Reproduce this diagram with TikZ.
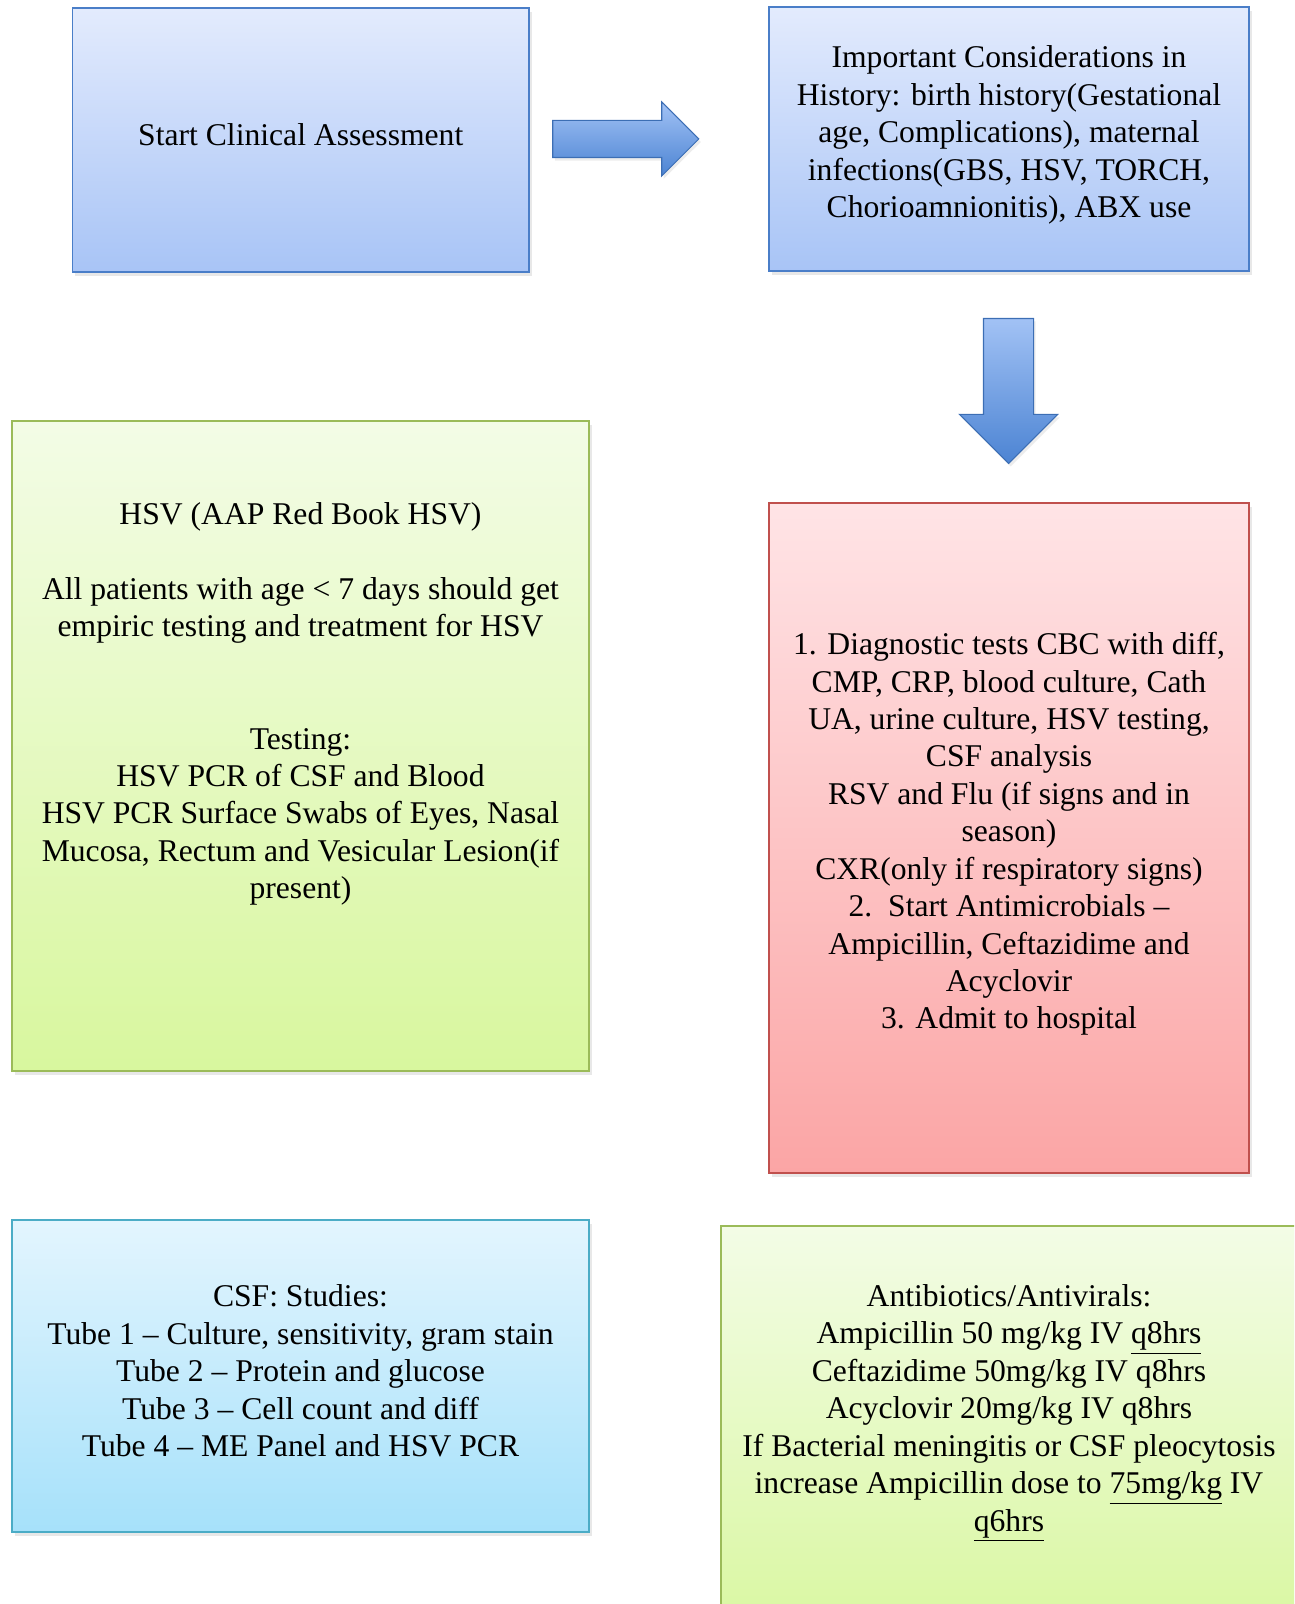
\documentclass[tikz,border=0pt]{standalone}
\usepackage{fontspec}
\setmainfont{Liberation Serif}
\usepackage{tikz}
\usetikzlibrary{shapes,shapes.arrows,shadows}
\definecolor{blueTop}{HTML}{E3EBFD}
\definecolor{blueBot}{HTML}{A8C4F6}
\definecolor{blueLine}{HTML}{4A7EC8}
\definecolor{arrTop}{HTML}{A2C2F5}
\definecolor{arrBot}{HTML}{4C84D3}
\definecolor{arrLine}{HTML}{3C6EB4}
\definecolor{greenTop}{HTML}{F3FCE6}
\definecolor{greenBot}{HTML}{D8F79E}
\definecolor{greenLine}{HTML}{9BBB59}
\definecolor{redTop}{HTML}{FFE4E6}
\definecolor{redBot}{HTML}{FBA5A5}
\definecolor{redLine}{HTML}{C0504D}
\definecolor{cyanTop}{HTML}{E3F5FE}
\definecolor{cyanBot}{HTML}{A6E1FA}
\definecolor{cyanLine}{HTML}{4BACC6}
\tikzset{box/.style={draw, line width=0.9pt, inner sep=0pt, drop shadow={opacity=0.18, shadow xshift=0.05cm, shadow yshift=-0.09cm}}}
\tikzset{bluebox/.style={box, draw=blueLine, top color=blueTop, bottom color=blueBot}}
\tikzset{greenbox/.style={box, draw=greenLine, top color=greenTop, bottom color=greenBot}}
\tikzset{redbox/.style={box, draw=redLine, top color=redTop, bottom color=redBot}}
\tikzset{cyanbox/.style={box, draw=cyanLine, top color=cyanTop, bottom color=cyanBot}}
\tikzset{fatarrow/.style={single arrow, draw=arrLine, line width=0.6pt, top color=arrTop, bottom color=arrBot, single arrow tip angle=90, drop shadow={opacity=0.15, shadow xshift=0.04cm, shadow yshift=-0.06cm}}}
\tikzset{txt/.style={align=center, inner sep=0pt, font=\fontsize{18}{21.3}\selectfont}}

\begin{document}
\begin{tikzpicture}
\useasboundingbox (0,0) rectangle (25.88,32.08);
\clip (0,0) rectangle (25.88,32.08);

\node[bluebox, minimum width=9.13cm, minimum height=5.28cm] (start) at (6.015,29.28) {};
\node[bluebox, minimum width=9.6cm, minimum height=5.28cm] (hist) at (20.18,29.30) {};
\node[greenbox, minimum width=11.54cm, minimum height=13cm] (hsv) at (6.01,17.16) {};
\node[redbox, minimum width=9.6cm, minimum height=13.4cm] (tests) at (20.18,15.32) {};
\node[cyanbox, minimum width=11.54cm, minimum height=6.24cm] (csf) at (6.01,4.56) {};
\node[greenbox, minimum width=11.52cm, minimum height=8.48cm] (abx) at (20.18,3.32) {};

\node[fatarrow, inner sep=0.36cm, minimum height=2.92cm, single arrow head extend=0.37cm] (arrA) at (12.33,29.30) {};
\node[fatarrow, shape border rotate=270, inner sep=0.49cm, minimum height=2.9cm, single arrow head extend=0.48cm] (arrB) at (20.17,24.51) {};

\node[txt] (startT) at (6.015,29.38) {Start Clinical Assessment};
\node[txt] (histT) at (20.18,29.38) {Important Considerations in\\
History: birth history(Gestational\\
age, Complications), maternal\\
infections(GBS, HSV, TORCH,\\
Chorioamnionitis), ABX use};
\node[txt] (hsvT) at (6.01,18.0) {HSV (AAP Red Book HSV)\\
\mbox{}\\
All patients with age < 7 days should get\\
empiric testing and treatment for HSV\\
\mbox{}\\
\mbox{}\\
Testing:\\
HSV PCR of CSF and Blood\\
HSV PCR Surface Swabs of Eyes, Nasal\\
Mucosa, Rectum and Vesicular Lesion(if\\
present)};
\node[txt] (testsT) at (20.18,15.40) {1. Diagnostic tests CBC with diff,\\
CMP, CRP, blood culture, Cath\\
UA, urine culture, HSV testing,\\
CSF analysis\\
RSV and Flu (if signs and in\\
season)\\
CXR(only if respiratory signs)\\
2.~~Start Antimicrobials –\\
Ampicillin, Ceftazidime and\\
Acyclovir\\
3. Admit to hospital};
\node[txt] (csfT) at (6.01,4.66) {CSF: Studies:\\
Tube 1 – Culture, sensitivity, gram stain\\
Tube 2 – Protein and glucose\\
Tube 3 – Cell count and diff\\
Tube 4 – ME Panel and HSV PCR};
\node[txt] (abxT) at (20.18,3.82) {Antibiotics/Antivirals:\\
Ampicillin 50 mg/kg IV \underline{q8hrs}\\
Ceftazidime 50mg/kg IV q8hrs\\
Acyclovir 20mg/kg IV q8hrs\\
If Bacterial meningitis or CSF pleocytosis\\
increase Ampicillin dose to \underline{75mg/kg} IV\\
\underline{q6hrs}};

\end{tikzpicture}
\end{document}
